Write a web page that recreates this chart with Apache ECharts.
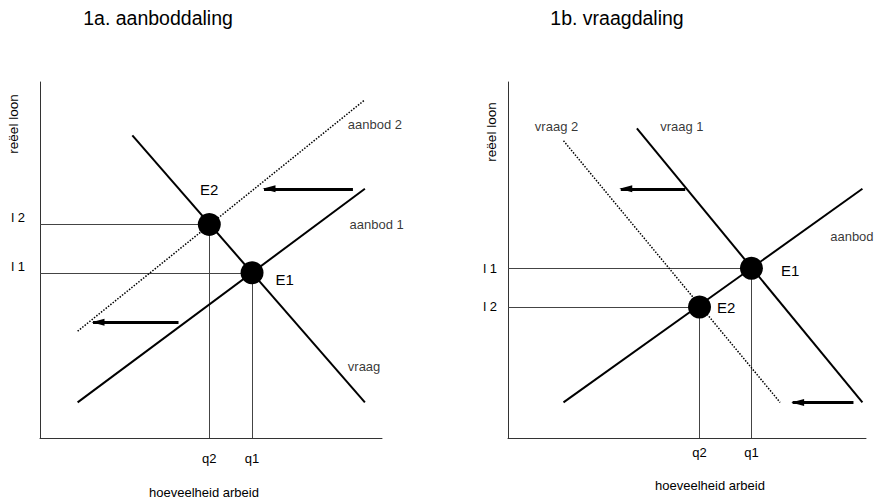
<!DOCTYPE html>
<html>
<head>
<meta charset="utf-8">
<script src="https://cdn.jsdelivr.net/npm/echarts@6/dist/echarts.min.js"></script>
<style>
  html, body { margin: 0; padding: 0; background: #fff; }
  #chart { width: 878px; height: 502px; }
</style>
</head>
<body>
<div id="chart"></div>
<script>
// 1a. aanboddaling (arbitrary units, 0..100 on both axes)
const supply1A = [[11, 10], [95, 70]];
const supply2A = [[11, 30], [95, 95]];
const demandA = [[27, 85], [95, 10]];
const equilibriaA = [[62, 46.4, "E1"], [49.5, 60, "E2"]];
const shiftArrowsA = [[[91.5, 70], [65.5, 70]], [[40.5, 32.5], [15.5, 32.5]]];
const curveLabelsA = [[90, 88, "aanbod 2"], [90.5, 60, "aanbod 1"], [90, 20, "vraag"]];

// 1b. vraagdaling
const supplyB = [[15.5, 10], [99, 70]];
const demand1B = [[36, 87], [99, 10]];
const demand2B = [[15.5, 83.5], [76, 10]];
const equilibriaB = [[68, 47.7, "E1"], [53.5, 36.8, "E2"]];
const shiftArrowsB = [[[49.5, 70], [31.5, 70]], [[96.5, 10], [79.5, 10]]];
const curveLabelsB = [[7.5, 87.5, "vraag 2"], [42.5, 87.5, "vraag 1"], [90, 56.5, "aanbod"]];

const titles = ["1a. aanboddaling", "1b. vraagdaling"];
const yName = "reëel loon";
const xName = "hoeveelheid arbeid";

const FONT = "'Liberation Sans', Arial, Helvetica, sans-serif";
const INK = "#000";

function eqLabels(eq, prefix) {
  // E1 -> "l 1"/"q1", E2 -> "l 2"/"q2"
  const byY = {}, byX = {};
  eq.forEach(e => {
    const n = e[2].slice(1);
    byY[e[1]] = prefix + " " + n;
    byX[e[0]] = "q" + n;
  });
  return { byY, byX };
}

function panelSeries(idx, solid, dotted, eq, arrows, labels, eLabelPos) {
  const s = [];
  solid.forEach(d => s.push({
    type: "line", xAxisIndex: idx, yAxisIndex: idx, data: d,
    symbol: "none", silent: true,
    lineStyle: { color: INK, width: 2 }
  }));
  dotted.forEach(d => s.push({
    type: "line", xAxisIndex: idx, yAxisIndex: idx, data: d,
    symbol: "none", silent: true,
    lineStyle: { color: INK, width: 1.5, type: [1.5, 1.5] }
  }));
  // guide lines from axes to the equilibria
  const guides = [];
  eq.forEach(e => {
    guides.push({ coords: [[0, e[1]], [e[0], e[1]]] });
    guides.push({ coords: [[e[0], 0], [e[0], e[1]]] });
  });
  s.push({
    type: "lines", coordinateSystem: "cartesian2d", xAxisIndex: idx, yAxisIndex: idx,
    data: guides, silent: true,
    lineStyle: { color: "#444", width: 1, opacity: 1 }
  });
  // shift arrows
  s.push({
    type: "lines", coordinateSystem: "cartesian2d", xAxisIndex: idx, yAxisIndex: idx,
    data: arrows.map(a => ({ coords: a })), silent: true,
    lineStyle: { color: INK, width: 3, opacity: 1 }
  });
  s.push({
    type: "scatter", xAxisIndex: idx, yAxisIndex: idx,
    data: arrows.map(a => a[1]), silent: true,
    symbol: "path://M0,5 L12,0 L12,10 Z",
    symbolSize: [13, 7], symbolOffset: [5, 0],
    itemStyle: { color: INK, opacity: 1 }
  });
  // equilibrium points
  s.push({
    type: "scatter", xAxisIndex: idx, yAxisIndex: idx, silent: true,
    data: eq.map((e, i) => ({
      value: [e[0], e[1]], name: e[2],
      label: eLabelPos[i]
    })),
    symbolSize: 23, itemStyle: { color: "#000", opacity: 1 },
    label: {
      show: true, formatter: "{b}", color: INK,
      fontFamily: FONT, fontSize: 15
    },
    z: 5
  });
  // curve names
  s.push({
    type: "scatter", xAxisIndex: idx, yAxisIndex: idx, silent: true,
    data: labels.map(l => ({ value: [l[0], l[1]], name: l[2] })),
    symbolSize: 0,
    label: {
      show: true, position: "inside", align: "left", formatter: "{b}",
      color: INK, fontFamily: FONT, fontSize: 13
    }
  });
  return s;
}

function axes(idx, eq, lMargin, lAlign, qMargin) {
  const m = eqLabels(eq, "l");
  const ys = eq.map(e => e[1]);
  const xs = eq.map(e => e[0]);
  const line = { show: true, lineStyle: { color: "#333", width: 1 } };
  return {
    x: {
      type: "value", gridIndex: idx, min: 0, max: 100,
      axisLine: line, axisTick: { show: false }, splitLine: { show: false },
      axisLabel: {
        customValues: xs, formatter: v => m.byX[v] || "",
        margin: qMargin, color: INK, fontFamily: FONT, fontSize: 13
      }
    },
    y: {
      type: "value", gridIndex: idx, min: 0, max: 100,
      axisLine: line, axisTick: { show: false }, splitLine: { show: false },
      axisLabel: {
        customValues: ys, formatter: v => m.byY[v] || "",
        margin: lMargin, verticalAlign: lAlign,
        color: INK, fontFamily: FONT, fontSize: 13
      }
    }
  };
}

const axA = axes(0, equilibriaA, 15, "bottom", 14);
const axB = axes(1, equilibriaB, 11, "middle", 8);

const textStyle = (size) => ({ font: size + "px " + FONT, fill: INK, textAlign: "center", textVerticalAlign: "middle" });

const chart = echarts.init(document.getElementById("chart"), null, { renderer: "svg" });
chart.setOption({
  animation: false,
  backgroundColor: "#fff",
  grid: [
    { left: 40, top: 82, width: 342, height: 356 },
    { left: 508, top: 82, width: 358, height: 356 }
  ],
  xAxis: [axA.x, axB.x],
  yAxis: [axA.y, axB.y],
  graphic: [
    { type: "text", x: 158, y: 18, style: { text: titles[0], ...textStyle(19.5) } },
    { type: "text", x: 617, y: 18, style: { text: titles[1], ...textStyle(19.5) } },
    { type: "text", x: 13, y: 124, rotation: Math.PI / 2, style: { text: yName, ...textStyle(13.5) } },
    { type: "text", x: 491, y: 132, rotation: Math.PI / 2, style: { text: yName, ...textStyle(13.5) } },
    { type: "text", x: 204, y: 492, style: { text: xName, ...textStyle(13) } },
    { type: "text", x: 710, y: 485, style: { text: xName, ...textStyle(13) } }
  ],
  series: [
    ...panelSeries(0, [supply1A, demandA], [supply2A], equilibriaA, shiftArrowsA, curveLabelsA,
      [{ position: "right", distance: 12, offset: [0, 7] }, { position: "top", distance: 16 }]),
    ...panelSeries(1, [supplyB, demand1B], [demand2B], equilibriaB, shiftArrowsB, curveLabelsB,
      [{ position: "right", distance: 18, offset: [0, 2] }, { position: "right", distance: 6, offset: [0, 1] }])
  ]
});
</script>
</body>
</html>
